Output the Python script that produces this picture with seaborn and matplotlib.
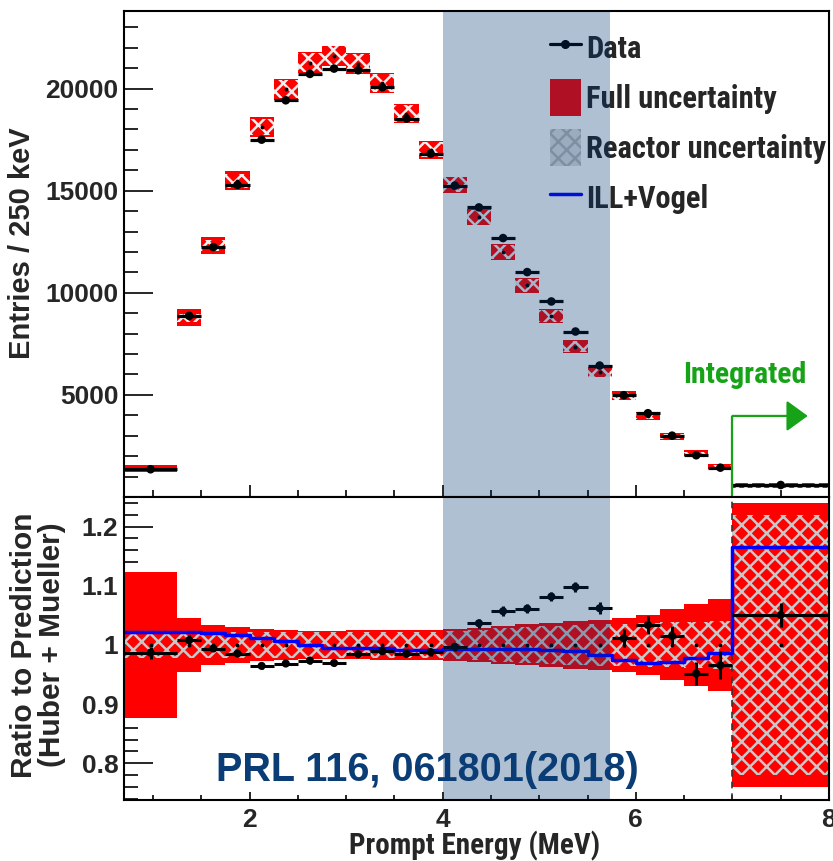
import numpy as np
import matplotlib
matplotlib.use("Agg")
import matplotlib.pyplot as plt
from matplotlib import font_manager
from matplotlib.lines import Line2D
from matplotlib.patches import Patch
from matplotlib.ticker import MultipleLocator, FixedLocator
import seaborn as sns

# ---- binning (MeV) ----
bin_edges = [0.7, 1.25, 1.5, 1.75, 2.0, 2.25, 2.5, 2.75, 3.0, 3.25, 3.5, 3.75, 4.0,
             4.25, 4.5, 4.75, 5.0, 5.25, 5.5, 5.75, 6.0, 6.25, 6.5, 6.75, 7.0, 8.0]

# ---- top panel: entries per bin ----
data_counts = [1358, 8873, 12240, 15280, 17500, 19427, 20720, 20980, 20898, 20065,
               18530, 16814, 15245, 14182, 12680, 11014, 9575, 8104, 6437, 4985,
               4103, 3005, 2044, 1437, 588]
pred_counts = [1375, 8780, 12300, 15480, 18128, 19970, 21270, 21590, 21220, 20270,
               18780, 17000, 15280, 13700, 12000, 10370, 8860, 7370, 6110, 4950,
               3960, 2960, 2140, 1488, 560]

# ---- bottom panel: ratio to Huber + Mueller ----
ratio = [0.987, 1.008, 0.994, 0.9855, 0.9646, 0.9686, 0.9736, 0.9696, 0.9843, 0.9894,
         0.985, 0.988, 0.997, 1.0366, 1.057, 1.0614, 1.0817, 1.098, 1.062, 1.0113,
         1.0338, 1.0152, 0.9517, 0.9657, 1.0507]
ratio_err = [0.010, 0.009, 0.005, 0.005, 0.005, 0.005, 0.005, 0.005, 0.005, 0.005,
             0.006, 0.006, 0.007, 0.008, 0.008, 0.008, 0.008, 0.009, 0.010, 0.015,
             0.015, 0.017, 0.020, 0.024, 0.020]
full_unc = [0.124, 0.046, 0.034, 0.030, 0.0275, 0.0255, 0.024, 0.0235, 0.0245, 0.025,
            0.025, 0.025, 0.027, 0.029, 0.0315, 0.0347, 0.0375, 0.041, 0.042, 0.045,
            0.0505, 0.060, 0.069, 0.0773, 0.2395]
reactor_unc = [0.022, 0.022, 0.022, 0.022, 0.022, 0.022, 0.022, 0.022, 0.022, 0.022,
               0.022, 0.022, 0.024, 0.026, 0.028, 0.030, 0.032, 0.034, 0.035, 0.036,
               0.037, 0.038, 0.039, 0.040, 0.22]
ill_vogel = [1.0226, 1.022, 1.021, 1.0175, 1.011, 1.006, 1.000, 0.9955, 0.995, 0.9944,
             0.9916, 0.9916, 0.993, 0.993, 0.994, 0.994, 0.9916, 0.989, 0.9826, 0.974,
             0.969, 0.9708, 0.9787, 0.987, 1.165]

# ---- annotations ----
window_lo, window_hi = 4.0, 5.73
integrated_start = 7.0
integrated_level = 3970
legend_labels = ["Data", "Full uncertainty", "Reactor uncertainty", "ILL+Vogel"]
x_label = "Prompt Energy (MeV)"
y_label_top = "Entries / 250 keV"
y_label_bottom = "Ratio to Prediction\n(Huber + Mueller)"
reference_text = "PRL 116, 061801(2018)"

# ---- style ----
sns.set_theme(style="ticks")
ttf = font_manager.fontManager.ttflist
names = {f.name for f in ttf}
MAIN = "Liberation Sans" if "Liberation Sans" in names else "DejaVu Sans"
plt.rcParams["font.family"] = [MAIN, "DejaVu Sans"]
plt.rcParams["font.weight"] = "bold"
plt.rcParams["axes.linewidth"] = 1.5
plt.rcParams["hatch.linewidth"] = 1.8
plt.rcParams["axes.edgecolor"] = "black"


def pick_narrow_font():
    """Prefer a condensed sans family for the legend / axis title text."""
    for nm in ["Liberation Sans Narrow", "Arial Narrow", "Roboto Condensed",
               "Open Sans Condensed", "Noto Sans Condensed", "DejaVu Sans Condensed"]:
        if nm in names:
            return dict(family=nm, fontstretch="normal")
    cond = [f for f in ttf if str(f.stretch) in ("condensed", "semi-condensed",
                                                  "extra-condensed")
            and not any(k in f.name for k in ("Mono", "Serif", "CJK"))]
    if cond:
        order = {"condensed": 0, "semi-condensed": 1, "extra-condensed": 2}
        cond.sort(key=lambda f: order.get(str(f.stretch), 3))
        return dict(family=cond[0].name, fontstretch=cond[0].stretch)
    for nm in ["Roboto", MAIN]:
        if nm in names:
            return dict(family=nm, fontstretch="normal")
    return dict(family="DejaVu Sans", fontstretch="normal")


NARROW = pick_narrow_font()

RED = "#ff0000"
BLUE = "#0000ff"
GREEN = "#17a317"
NAVY = "#0a3d75"
BAND = (0.0, 52 / 255, 116 / 255)

edges = np.array(bin_edges)
lefts = edges[:-1]
widths = np.diff(edges)
centers = lefts + widths / 2
half_w = widths / 2
data_counts = np.array(data_counts, float)
pred_counts = np.array(pred_counts, float)
ratio = np.array(ratio)
ratio_err = np.array(ratio_err)
full_unc = np.array(full_unc)
reactor_unc = np.array(reactor_unc)

W, H = 833, 861
fig = plt.figure(figsize=(W / 100, H / 100), dpi=100)
renderer = fig.canvas.get_renderer()


def fit_size(text, target_px, max_pt, props):
    """Font size (pt) so that `text` spans about target_px pixels."""
    probe = fig.text(0, 0, text, fontsize=20, fontweight="bold", **props)
    w = probe.get_window_extent(renderer).width
    probe.remove()
    return min(max_pt, 20 * target_px / w)


leg_size = fit_size("Reactor uncertainty", 240, 22, NARROW)
xlab_size = fit_size(x_label, 250, 21, NARROW)
integ_size = fit_size("Integrated", 123, 22, NARROW)

ax_top = fig.add_axes([124 / W, 1 - 497 / H, 705 / W, 486 / H])
ax_bot = fig.add_axes([124 / W, 1 - 800 / H, 705 / W, 303 / H])

# ================= top panel =================
ax_top.bar(lefts, 2 * pred_counts * full_unc, bottom=pred_counts * (1 - full_unc),
           width=widths, align="edge", color=RED, lw=0, zorder=1)
ax_top.bar(lefts, 2 * pred_counts * reactor_unc, bottom=pred_counts * (1 - reactor_unc),
           width=widths, align="edge", facecolor="none", edgecolor="#f0f0f0",
           hatch="xx", lw=0, zorder=2)
ax_top.plot(centers, pred_counts, "o", ms=1.8, color="black", zorder=3)
ax_top.errorbar(centers, data_counts, xerr=half_w, fmt="none", ecolor="black",
                elinewidth=2.3, capsize=0, zorder=5)
sns.scatterplot(x=centers, y=data_counts, color="black", s=38, edgecolor="none",
                ax=ax_top, zorder=6, legend=False)

# integrated arrow
ax_top.plot([integrated_start, integrated_start], [0, integrated_level],
            color=GREEN, lw=1.6, zorder=7, solid_capstyle="butt")
ax_top.annotate("", xy=(7.78, integrated_level), xytext=(integrated_start, integrated_level),
                arrowprops=dict(arrowstyle="-|>,head_length=1.1,head_width=0.8",
                                color=GREEN, lw=1.6, shrinkA=0, shrinkB=0), zorder=7)
ax_top.text(7.125, 5588, "Integrated", color=GREEN, fontsize=integ_size,
            fontweight="bold", ha="center", va="baseline", **NARROW)

ax_top.axvspan(window_lo, window_hi, color=BAND, alpha=0.31, lw=0, zorder=10)

handles = [
    Line2D([], [], color="black", lw=2.3, marker="o", ms=5.5),
    Patch(facecolor=RED, edgecolor="none"),
    Patch(facecolor="#e2e2e2", edgecolor="#b8b8b8", hatch="xx", lw=0),
    Line2D([], [], color=BLUE, lw=2.5),
]
fs_px = leg_size * 100 / 72
leg = ax_top.legend(handles, legend_labels, loc="upper left",
                    bbox_to_anchor=(0.604, 0.962), frameon=False, numpoints=1,
                    prop=dict(family=NARROW["family"], stretch=NARROW["fontstretch"],
                              weight="bold", size=leg_size),
                    handlelength=31 / fs_px, handleheight=1.48 * 30.6 / fs_px,
                    handletextpad=5 / fs_px, labelspacing=13 / fs_px,
                    borderpad=0, borderaxespad=0)
leg.set_zorder(5)

ax_top.set_xlim(0.7, 8.0)
ax_top.set_ylim(0, 23800)
ax_top.yaxis.set_major_locator(FixedLocator([5000, 10000, 15000, 20000]))
ax_top.yaxis.set_minor_locator(MultipleLocator(1000))
ax_top.xaxis.set_major_locator(MultipleLocator(2))
ax_top.xaxis.set_minor_locator(MultipleLocator(0.5))
ax_top.tick_params(axis="x", which="major", direction="in", length=8.6, width=1.4,
                   labelbottom=False, top=False)
ax_top.tick_params(axis="x", which="minor", direction="in", length=5, width=1.4, top=False)
ax_top.tick_params(axis="y", which="major", direction="in", length=21, width=1.4,
                   labelsize=19, pad=4, right=False)
ax_top.tick_params(axis="y", which="minor", direction="in", length=10, width=1.4, right=False)
ax_top.set_ylabel(y_label_top, fontsize=21, fontweight="bold", va="center")
ax_top.yaxis.set_label_coords((22 - 124) / 705, (497 - 243) / 486)

# ================= bottom panel =================
ax_bot.bar(lefts, 2 * full_unc, bottom=1 - full_unc, width=widths, align="edge",
           color=RED, lw=0, zorder=1)
ax_bot.bar(lefts, 2 * reactor_unc, bottom=1 - reactor_unc, width=widths, align="edge",
           facecolor="none", edgecolor="#c8c8c8", hatch="xx", lw=0, zorder=2)
ax_bot.axvline(integrated_start, color="#333333", ls=(0, (4, 3)), lw=1.2, zorder=2.5)
ax_bot.plot(centers, np.ones_like(centers), "o", ms=1.8, color="black", zorder=3)
sns.lineplot(x=edges, y=list(ill_vogel) + [ill_vogel[-1]], drawstyle="steps-post",
             color=BLUE, lw=2.5, ax=ax_bot, zorder=4, estimator=None, sort=False,
             legend=False)
ax_bot.errorbar(centers, ratio, xerr=half_w, yerr=ratio_err, fmt="none", ecolor="black",
                elinewidth=2.2, capsize=0, zorder=5)
sns.scatterplot(x=centers, y=ratio, color="black", s=34, edgecolor="none",
                ax=ax_bot, zorder=6, legend=False)

ax_bot.axvspan(window_lo, window_hi, color=BAND, alpha=0.31, lw=0, zorder=10)
ax_bot.text(3.84, 0.7885, reference_text, color=NAVY, fontsize=28.5, fontweight="bold",
            ha="center", va="center", zorder=11)

ax_bot.set_xlim(0.7, 8.0)
ax_bot.set_ylim(0.738, 1.25)
ax_bot.xaxis.set_major_locator(MultipleLocator(2))
ax_bot.xaxis.set_minor_locator(MultipleLocator(0.5))
ax_bot.yaxis.set_major_locator(FixedLocator([0.8, 0.9, 1.0, 1.1, 1.2]))
ax_bot.yaxis.set_minor_locator(MultipleLocator(0.02))
ax_bot.set_yticklabels(["0.8", "0.9", "1", "1.1", "1.2"])
ax_bot.tick_params(axis="x", which="major", direction="in", length=5.8, width=1.4,
                   labelsize=19, pad=6, top=False)
ax_bot.tick_params(axis="x", which="minor", direction="in", length=3.6, width=1.4, top=False)
ax_bot.tick_params(axis="y", which="major", direction="in", length=21, width=1.4,
                   labelsize=19, pad=4, right=False)
ax_bot.tick_params(axis="y", which="minor", direction="in", length=10, width=1.4, right=False)
ax_bot.set_xlabel(x_label, fontsize=xlab_size, fontweight="bold", va="baseline", **NARROW)
ax_bot.xaxis.set_label_coords(0.497, (800 - 854) / 303)
ax_bot.set_ylabel(y_label_bottom, fontsize=21.5, fontweight="bold", va="center",
                  linespacing=1.0)
ax_bot.yaxis.set_label_coords((38.5 - 124) / 705, (800 - 645) / 303)

for ax in (ax_top, ax_bot):
    for s in ax.spines.values():
        s.set_linewidth(1.5)
        s.set_zorder(12)

fig.savefig("out.png", dpi=100)
